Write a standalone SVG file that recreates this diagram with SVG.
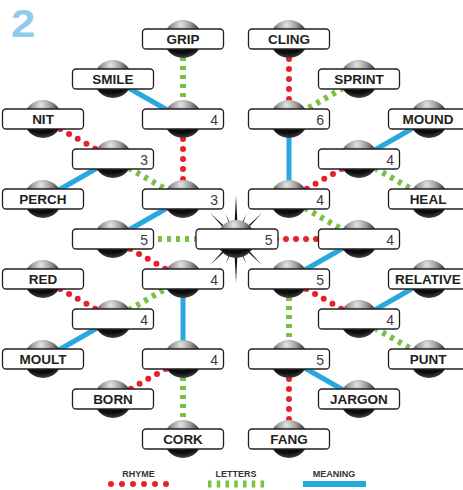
<svg xmlns="http://www.w3.org/2000/svg" xmlns:xlink="http://www.w3.org/1999/xlink" width="463" height="490" viewBox="0 0 463 490">
<defs>
<radialGradient id="sg" cx="48%" cy="22%" r="80%" fx="44%" fy="12%">
<stop offset="0" stop-color="#e6e6e6"/>
<stop offset="0.3" stop-color="#9c9c9c"/>
<stop offset="0.58" stop-color="#333"/>
<stop offset="0.82" stop-color="#080808"/>
<stop offset="1" stop-color="#4a4a4a"/>
</radialGradient>
<circle id="sph" r="19" fill="url(#sg)"/>
<style>
.b{fill:#fff;stroke:#231f20;stroke-width:1.3}
.w{font-family:"Liberation Sans",Arial,sans-serif;font-weight:bold;font-size:13.5px;fill:#231f20;text-anchor:middle}
.n{font-family:"Liberation Sans",Arial,sans-serif;font-size:14px;fill:#3a3a3a;text-anchor:end}
.r{stroke:#e8202a;stroke-width:6;stroke-dasharray:0 10;stroke-linecap:round;fill:none}
.l{stroke:#7ac143;stroke-width:6;stroke-dasharray:4 5;fill:none}
.m{stroke:#29a8e0;stroke-width:5;fill:none}
.lg{font-family:"Liberation Sans",Arial,sans-serif;font-weight:bold;font-size:9px;fill:#333;text-anchor:middle}
.sp{fill:#111}
</style>
</defs>
<rect width="463" height="490" fill="#fff"/>
<text x="11" y="37" font-family="Liberation Sans,Arial,sans-serif" font-weight="bold" font-size="38" fill="#8fcaef" transform="translate(11 37) scale(1.15 1) translate(-11 -37)">2</text>

<g id="connectors">
<line class="l" x1="183" y1="39" x2="183" y2="119"/>
<line class="m" x1="113" y1="79" x2="183" y2="119"/>
<line class="r" x1="43" y1="119" x2="113" y2="159"/>
<line class="r" x1="183" y1="119" x2="183" y2="199"/>
<line class="m" x1="113" y1="159" x2="43" y2="199"/>
<line class="l" x1="113" y1="159" x2="183" y2="199"/>
<line class="m" x1="183" y1="199" x2="113" y2="239"/>
<line class="l" x1="113" y1="239" x2="236" y2="239"/>
<line class="r" x1="113" y1="239" x2="183" y2="279"/>
<line class="r" x1="43" y1="279" x2="113" y2="319"/>
<line class="l" x1="113" y1="319" x2="183" y2="279"/>
<line class="m" x1="113" y1="319" x2="43" y2="359"/>
<line class="m" x1="183" y1="279" x2="183" y2="359"/>
<line class="r" x1="183" y1="359" x2="113" y2="399"/>
<line class="l" x1="183" y1="359" x2="183" y2="439"/>
<line class="r" x1="289" y1="39" x2="289" y2="119"/>
<line class="l" x1="359" y1="79" x2="289" y2="119"/>
<line class="m" x1="289" y1="119" x2="289" y2="199"/>
<line class="m" x1="429" y1="119" x2="359" y2="159"/>
<line class="r" x1="359" y1="159" x2="289" y2="199"/>
<line class="l" x1="359" y1="159" x2="429" y2="199"/>
<line class="l" x1="289" y1="199" x2="359" y2="239"/>
<line class="r" x1="236" y1="239" x2="359" y2="239"/>
<line class="m" x1="359" y1="239" x2="289" y2="279"/>
<line class="r" x1="289" y1="279" x2="359" y2="319"/>
<line class="m" x1="429" y1="279" x2="359" y2="319"/>
<line class="l" x1="359" y1="319" x2="429" y2="359"/>
<line class="l" x1="289" y1="279" x2="289" y2="359"/>
<line class="m" x1="289" y1="359" x2="359" y2="399"/>
<line class="r" x1="289" y1="359" x2="289" y2="439"/>
</g>

<g id="grip"><use href="#sph" x="183" y="39"/><rect class="b" x="142.5" y="29" width="81" height="20" rx="3.5"/><text class="w" x="183" y="43.8">GRIP</text></g>
<g id="cling"><use href="#sph" x="289" y="39"/><rect class="b" x="248.5" y="29" width="81" height="20" rx="3.5"/><text class="w" x="289" y="43.8">CLING</text></g>
<g id="smile"><use href="#sph" x="113" y="79"/><rect class="b" x="72.5" y="69" width="81" height="20" rx="3.5"/><text class="w" x="113" y="83.8">SMILE</text></g>
<g id="sprint"><use href="#sph" x="359" y="79"/><rect class="b" x="318.5" y="69" width="81" height="20" rx="3.5"/><text class="w" x="359" y="83.8">SPRINT</text></g>
<g id="nit"><use href="#sph" x="43" y="119"/><rect class="b" x="2.5" y="109" width="81" height="20" rx="3.5"/><text class="w" x="43" y="123.8">NIT</text></g>
<g id="n4a"><use href="#sph" x="183" y="119"/><rect class="b" x="142.5" y="109" width="81" height="20" rx="3.5"/><text class="n" x="218" y="124.5">4</text></g>
<g id="n6"><use href="#sph" x="289" y="119"/><rect class="b" x="248.5" y="109" width="81" height="20" rx="3.5"/><text class="n" x="324" y="124.5">6</text></g>
<g id="mound"><use href="#sph" x="429" y="119"/><rect class="b" x="388.5" y="109" width="81" height="20" rx="3.5"/><text class="w" x="428" y="123.8">MOUND</text></g>
<g id="n3a"><use href="#sph" x="113" y="159"/><rect class="b" x="72.5" y="149" width="81" height="20" rx="3.5"/><text class="n" x="148" y="164.5">3</text></g>
<g id="n4b"><use href="#sph" x="359" y="159"/><rect class="b" x="318.5" y="149" width="81" height="20" rx="3.5"/><text class="n" x="394" y="164.5">4</text></g>
<g id="perch"><use href="#sph" x="43" y="199"/><rect class="b" x="2.5" y="189" width="81" height="20" rx="3.5"/><text class="w" x="43" y="203.8">PERCH</text></g>
<g id="n3b"><use href="#sph" x="183" y="199"/><rect class="b" x="142.5" y="189" width="81" height="20" rx="3.5"/><text class="n" x="218" y="204.5">3</text></g>
<g id="n4c"><use href="#sph" x="289" y="199"/><rect class="b" x="248.5" y="189" width="81" height="20" rx="3.5"/><text class="n" x="324" y="204.5">4</text></g>
<g id="heal"><use href="#sph" x="429" y="199"/><rect class="b" x="388.5" y="189" width="81" height="20" rx="3.5"/><text class="w" x="428" y="203.8">HEAL</text></g>
<g id="n5a"><use href="#sph" x="113" y="239"/><rect class="b" x="72.5" y="229" width="81" height="20" rx="3.5"/><text class="n" x="148" y="244.5">5</text></g>
<g id="center">
<g class="sp" transform="translate(236 239)">
<polygon points="-2.2,0 0,-44 2.2,0"/>
<polygon points="-2.2,0 0,44 2.2,0"/>
<polygon points="-1.6,-1.6 1.6,1.6 0,-37" transform="rotate(-45)"/>
<polygon points="-1.6,1.6 1.6,-1.6 0,-37" transform="rotate(45)"/>
<polygon points="-1.6,-1.6 1.6,1.6 0,-37" transform="rotate(135)"/>
<polygon points="-1.6,1.6 1.6,-1.6 0,-37" transform="rotate(-135)"/>
<polygon points="-1.4,0 1.4,0 0,-27" transform="rotate(-22.5)"/>
<polygon points="-1.4,0 1.4,0 0,-27" transform="rotate(22.5)"/>
<polygon points="-1.4,0 1.4,0 0,-27" transform="rotate(-67.5)"/>
<polygon points="-1.4,0 1.4,0 0,-27" transform="rotate(67.5)"/>
<polygon points="-1.4,0 1.4,0 0,-27" transform="rotate(112.5)"/>
<polygon points="-1.4,0 1.4,0 0,-27" transform="rotate(157.5)"/>
<polygon points="-1.4,0 1.4,0 0,-27" transform="rotate(-112.5)"/>
<polygon points="-1.4,0 1.4,0 0,-27" transform="rotate(-157.5)"/>
</g>
<use href="#sph" x="236" y="239"/><rect class="b" x="196" y="229" width="82" height="20" rx="3.5"/><text class="n" x="272.5" y="244.5">5</text></g>
<g id="n4d"><use href="#sph" x="359" y="239"/><rect class="b" x="318.5" y="229" width="81" height="20" rx="3.5"/><text class="n" x="394" y="244.5">4</text></g>
<g id="red"><use href="#sph" x="43" y="279"/><rect class="b" x="2.5" y="269" width="81" height="20" rx="3.5"/><text class="w" x="43" y="283.8">RED</text></g>
<g id="n4e"><use href="#sph" x="183" y="279"/><rect class="b" x="142.5" y="269" width="81" height="20" rx="3.5"/><text class="n" x="218" y="284.5">4</text></g>
<g id="n5b"><use href="#sph" x="289" y="279"/><rect class="b" x="248.5" y="269" width="81" height="20" rx="3.5"/><text class="n" x="324" y="284.5">5</text></g>
<g id="relative"><use href="#sph" x="429" y="279"/><rect class="b" x="388.5" y="269" width="81" height="20" rx="3.5"/><text class="w" x="428" y="283.8">RELATIVE</text></g>
<g id="n4f"><use href="#sph" x="113" y="319"/><rect class="b" x="72.5" y="309" width="81" height="20" rx="3.5"/><text class="n" x="148" y="324.5">4</text></g>
<g id="n4g"><use href="#sph" x="359" y="319"/><rect class="b" x="318.5" y="309" width="81" height="20" rx="3.5"/><text class="n" x="394" y="324.5">4</text></g>
<g id="moult"><use href="#sph" x="43" y="359"/><rect class="b" x="2.5" y="349" width="81" height="20" rx="3.5"/><text class="w" x="43" y="363.8">MOULT</text></g>
<g id="n4h"><use href="#sph" x="183" y="359"/><rect class="b" x="142.5" y="349" width="81" height="20" rx="3.5"/><text class="n" x="218" y="364.5">4</text></g>
<g id="n5c"><use href="#sph" x="289" y="359"/><rect class="b" x="248.5" y="349" width="81" height="20" rx="3.5"/><text class="n" x="324" y="364.5">5</text></g>
<g id="punt"><use href="#sph" x="429" y="359"/><rect class="b" x="388.5" y="349" width="81" height="20" rx="3.5"/><text class="w" x="428" y="363.8">PUNT</text></g>
<g id="born"><use href="#sph" x="113" y="399"/><rect class="b" x="72.5" y="389" width="81" height="20" rx="3.5"/><text class="w" x="113" y="403.8">BORN</text></g>
<g id="jargon"><use href="#sph" x="359" y="399"/><rect class="b" x="318.5" y="389" width="81" height="20" rx="3.5"/><text class="w" x="359" y="403.8">JARGON</text></g>
<g id="cork"><use href="#sph" x="183" y="439"/><rect class="b" x="142.5" y="429" width="81" height="20" rx="3.5"/><text class="w" x="183" y="443.8">CORK</text></g>
<g id="fang"><use href="#sph" x="289" y="439"/><rect class="b" x="248.5" y="429" width="81" height="20" rx="3.5"/><text class="w" x="289" y="443.8">FANG</text></g>

<g id="legend">
<text class="lg" x="138.5" y="477">RHYME</text>
<g fill="#e8202a"><circle cx="111" cy="484" r="3"/><circle cx="122" cy="484" r="3"/><circle cx="133" cy="484" r="3"/><circle cx="144" cy="484" r="3"/><circle cx="155" cy="484" r="3"/><circle cx="166" cy="484" r="3"/></g>
<text class="lg" x="236" y="477">LETTERS</text>
<line x1="208" y1="484" x2="264" y2="484" stroke="#7ac143" stroke-width="7" stroke-dasharray="3.5 5.25"/>
<text class="lg" x="334" y="477">MEANING</text>
<rect x="303" y="481" width="63" height="6" fill="#29a8e0"/>
</g>
</svg>
